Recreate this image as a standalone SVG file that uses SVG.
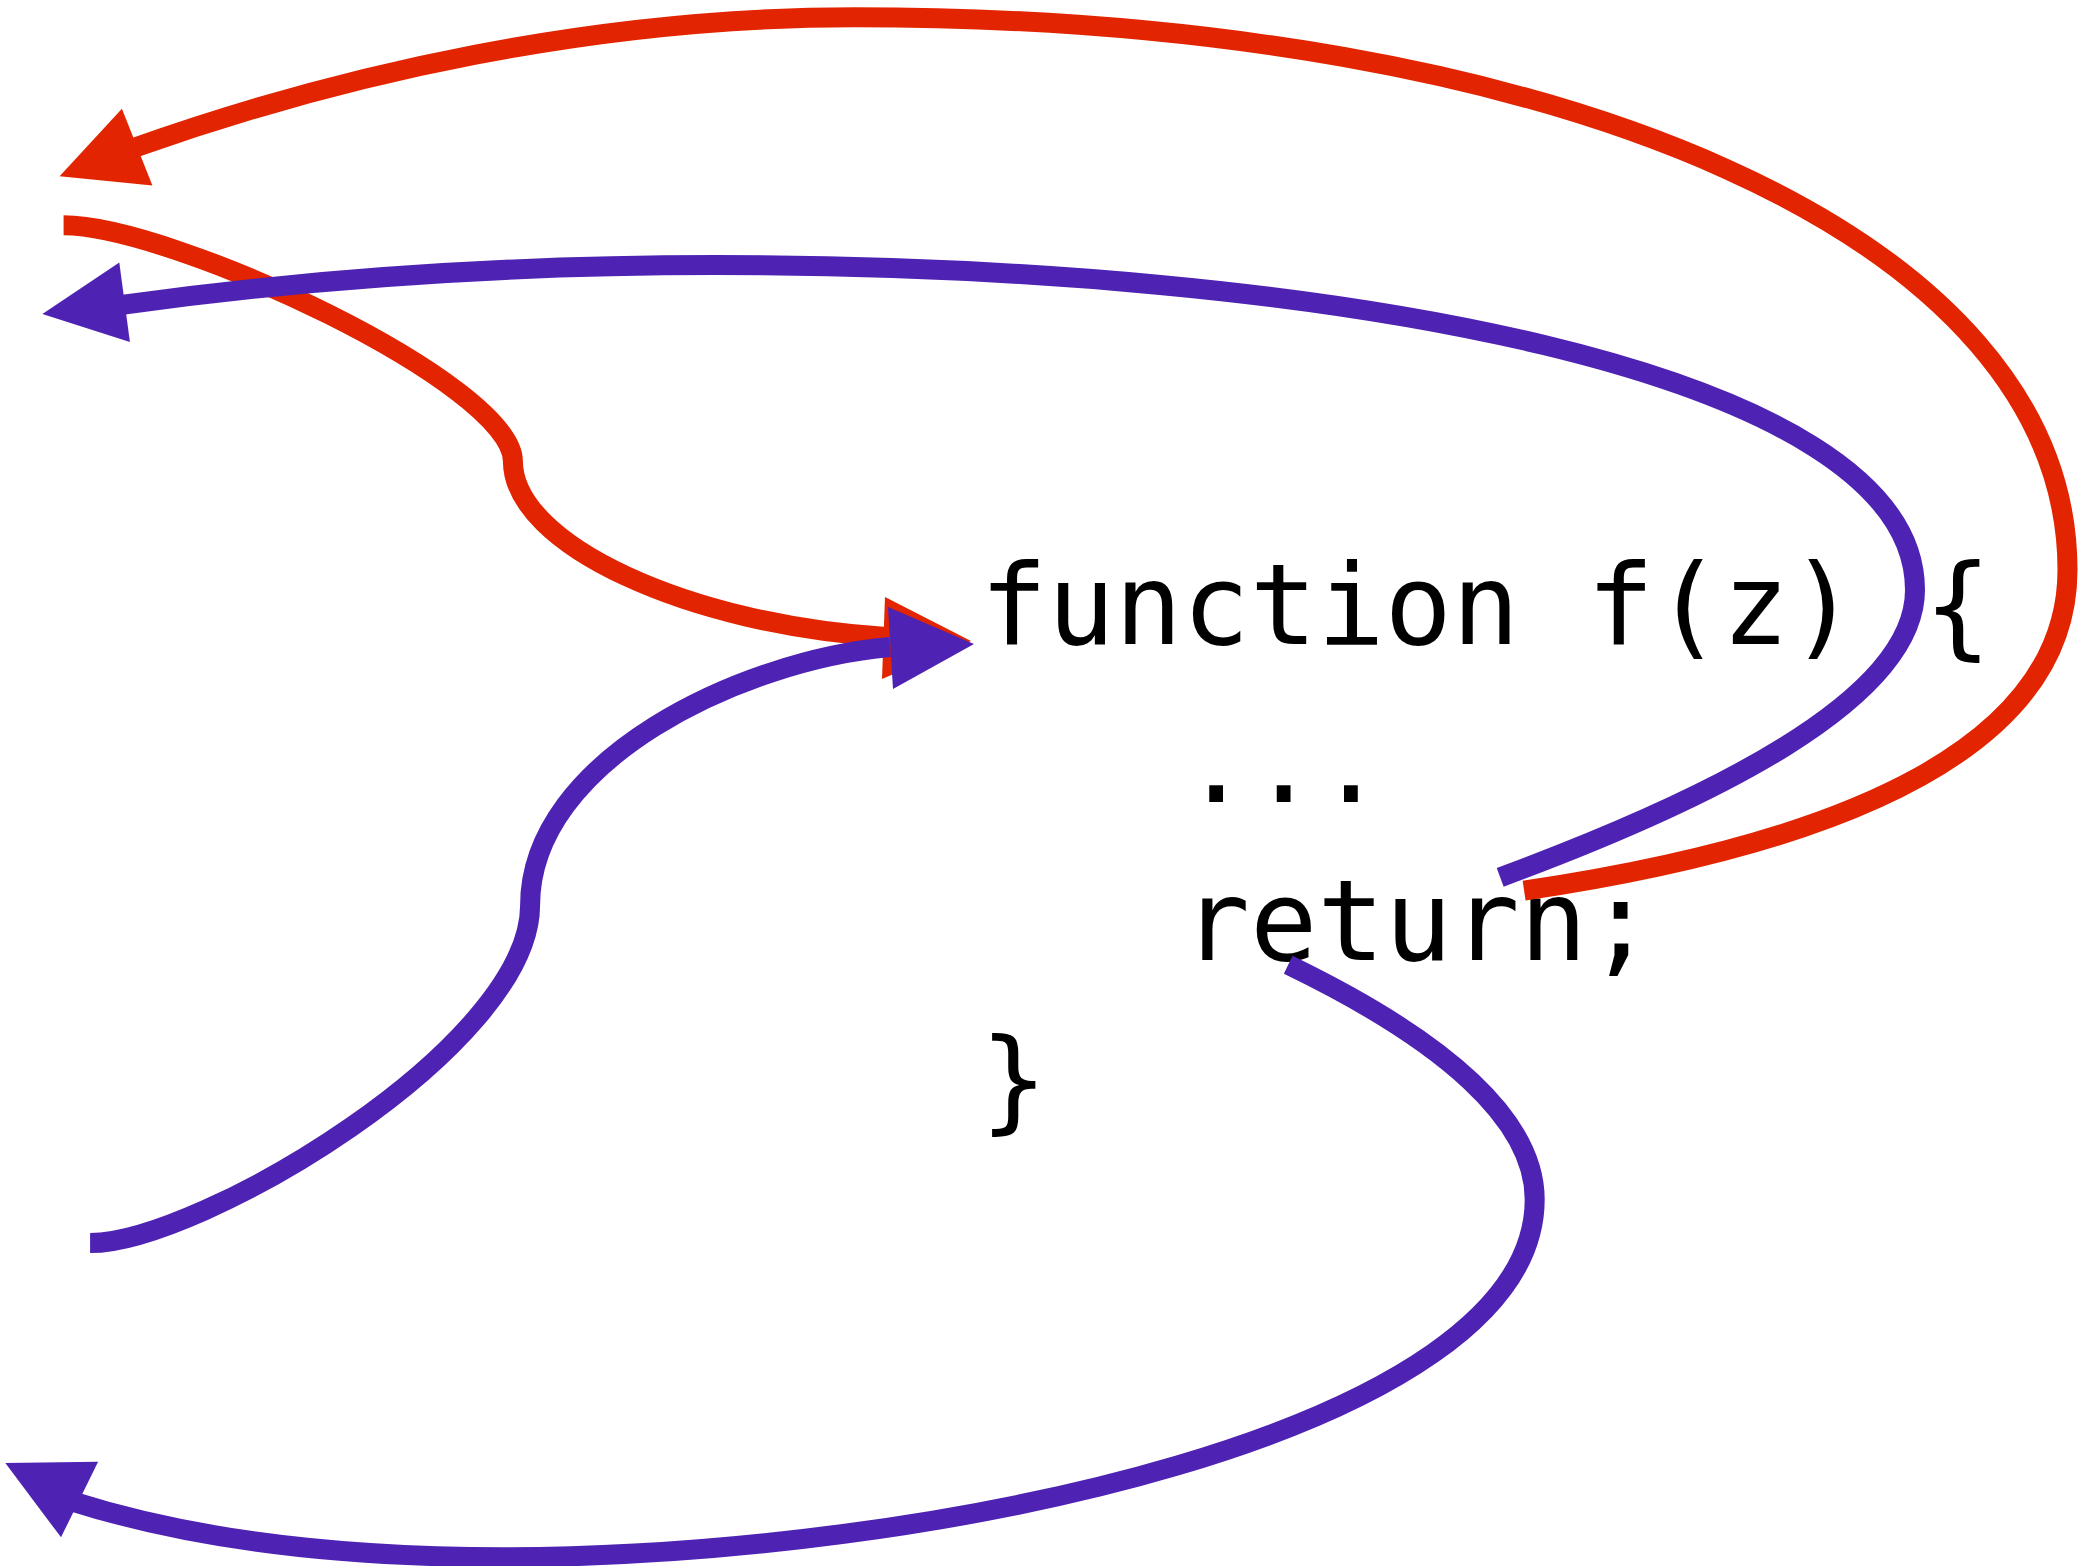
<svg xmlns="http://www.w3.org/2000/svg" width="2078" height="1566" viewBox="0 0 2078 1566">
<style>
.red{fill:none;stroke:#E22500;stroke-width:20;stroke-linecap:butt}
.pur{fill:none;stroke:#4E22B2;stroke-width:20;stroke-linecap:butt}
.redh{fill:#E22500}
.purh{fill:#4E22B2}
.code{font-family:"DejaVu Sans Mono","Liberation Mono",monospace;font-size:112px;fill:#000}
</style>
<rect width="2078" height="1566" fill="#fff"/>
<g id="code">
<text class="code" x="980" y="644">function f(z) {</text>
<text class="code" x="1182.5" y="802">...</text>
<text class="code" x="1182.5" y="960">return;</text>
<text class="code" x="980" y="1118">}</text>
</g>
<g id="connectors">
<path class="red" d="M63.6,225.3 C172.3,225.3 512.9,384.3 512.9,461.2 C512.9,545 690,625 886,637"/>
<polygon class="redh" points="885,597 971,641 882,679"/>
<path class="red" d="M1524.1,890.6 C1855.4,841.6 2067.5,742.2 2067.5,569.9 C2067.5,238.5 1563.8,17.2 854.8,17.2 C596.4,17.2 344.6,72.9 132.5,148.4"/>
<polygon class="redh" points="121.9,108.7 59.6,176.3 152.4,185.5"/>
<path class="pur" d="M90.1,1243.1 C198.8,1243.1 530.1,1047 530.1,905.2 C530.1,760 742,660 890,647"/>
<polygon class="purh" points="888,607 974,644 893,689"/>
<path class="pur" d="M1500.2,877.3 C1709,800 1915,700 1915,590 C1915,370 1325.3,265.1 715.7,265.1 C463.9,265.1 265.1,284.9 121.9,304.8"/>
<polygon class="purh" points="119.3,262.4 42.4,314.1 129.9,341.9"/>
<path class="pur" d="M1288.2,964.8 C1444.6,1040.4 1534.7,1119.9 1534.7,1199.4 C1534.7,1431.3 927.7,1557.2 503.6,1557.2 C331.3,1557.2 185.5,1537.3 72.9,1501.6"/>
<polygon class="purh" points="98.1,1461.8 5.3,1463.1 61,1537.3"/>
</g>
</svg>
